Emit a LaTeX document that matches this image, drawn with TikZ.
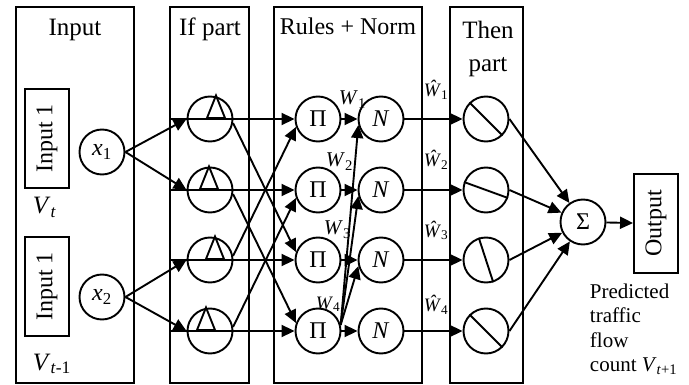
\documentclass[tikz,border=0pt]{standalone}
\usepackage{fontspec}
\setmainfont{Liberation Serif}
\usetikzlibrary{arrows.meta}

\begin{document}
\begin{tikzpicture}[x=1pt,y=-1pt,line width=1.9pt,
  unit/.style={circle,draw,minimum size=45pt,inner sep=0pt,font=\fontsize{24}{28}\selectfont},
  inbox/.style={draw,rotate=90,minimum width=99pt,minimum height=44pt,inner sep=0pt,font=\fontsize{24}{28}\selectfont},
  title/.style={anchor=base,inner sep=0pt,font=\fontsize{25}{33}\selectfont},
  lab/.style={anchor=base west,inner sep=0pt,font=\fontsize{21}{24}\selectfont},
  hatlab/.style={lab,font=\fontsize{19}{22}\selectfont},
  arr/.style={-{Triangle[length=13pt,width=12pt]}}]

\useasboundingbox (0,0) rectangle (689,385);

\draw (16,7) rectangle (134,383);
\draw (170,7) rectangle (249,383);
\draw (274,7) rectangle (422,383);
\draw (450,7) rectangle (523,383);
\coordinate (ifleft) at (170,0);

\node[title] (tin) at (75,36) {Input};
\node[title] (tif) at (210,36) {If part};
\node[title,font=\fontsize{24}{28}\selectfont] (trules) at (348,35) {Rules + Norm};
\node[title,anchor=north,align=center] (tthen) at (488,20.5) {Then\\part};

\node[inbox] (in1) at (47,138.5) {Input 1};
\node[inbox] (in2) at (47,286.5) {Input 1};
\node[unit] (x1) at (102,152) {\textit{x}\textsubscript{1}};
\node[unit] (x2) at (102,297) {\textit{x}\textsubscript{2}};
\node[lab,font=\fontsize{25}{28}\selectfont] (vt) at (32,214) {\textit{V}\textsubscript{\textit{t}}};
\node[lab,font=\fontsize{25}{28}\selectfont] (vt1) at (32,370) {\textit{V}\textsubscript{\textit{t}-1}};

\foreach \i/\y/\dx in {1/119/6,2/190/-1,3/260/5,4/331/-4} {
  \node[unit] (if\i) at (210,\y) {};
  \draw ([xshift=\dx pt]if\i.north) -- ++(-9,22.5) -- ++(18,0) -- cycle;
  \node[unit] (P\i) at (318,\y) {Π};
  \node[unit] (N\i) at (381,\y) {\textit{N}};
  \node[unit] (T\i) at (486,\y) {};
}
\foreach \i/\a/\b in {1/135/-45,2/160/-20,3/108/-72,4/135/-45}
  \draw (T\i.\a) -- (T\i.\b);

\node[unit] (S) at (583,222) {Σ};
\node[inbox,minimum width=99pt] (out) at (656,223.5) {Output};

\draw[arr] (x1.east) -- (if1.west);
\draw[arr] (x1.east) -- (if2.west);
\draw[arr] (x2.east) -- (if3.west);
\draw[arr] (x2.east) -- (if4.west);

\foreach \i in {1,...,4} {
  \draw[arr] (if\i.west -| ifleft) -- (P\i.west);
  \draw[arr] (P\i) -- (N\i);
  \draw[arr] (N\i) -- (T\i);
  \draw[arr] (T\i.east) -- (S);
}
\draw[arr] (if1.-10) -- (P3.160);
\draw[arr] (if2.-10) -- (P4.160);
\draw[arr] (if3.10) -- (P1.200);
\draw[arr] (if4.10) -- (P2.200);
\foreach \i in {1,2,3}
  \draw[arr] (P4.15) -- (N\i.195);
\draw[arr] (S) -- (out);

\node[lab] (w1) at (338,105) {\textit{W}\textsubscript{1}};
\node[lab] (w2) at (325,167) {\textit{W}\textsubscript{2}};
\node[lab] (w3) at (323,235) {\textit{W}\textsubscript{3}};
\node[lab,font=\fontsize{19}{22}\selectfont] (w4) at (315,309) {\textit{W}\textsubscript{4}};
\node[hatlab] (wh1) at (423,97) {\textit{Ŵ}\textsubscript{1}};
\node[hatlab] (wh2) at (423,167) {\textit{Ŵ}\textsubscript{2}};
\node[hatlab] (wh3) at (423,237) {\textit{Ŵ}\textsubscript{3}};
\node[hatlab] (wh4) at (423,312) {\textit{Ŵ}\textsubscript{4}};

\node[anchor=north west,inner sep=0pt,align=left,font=\fontsize{21}{24.3}\selectfont] (pred) at (589,283)
  {Predicted\\traffic\\flow\\count \textit{V}\textsubscript{\textit{t}+1}};
\end{tikzpicture}
\end{document}
